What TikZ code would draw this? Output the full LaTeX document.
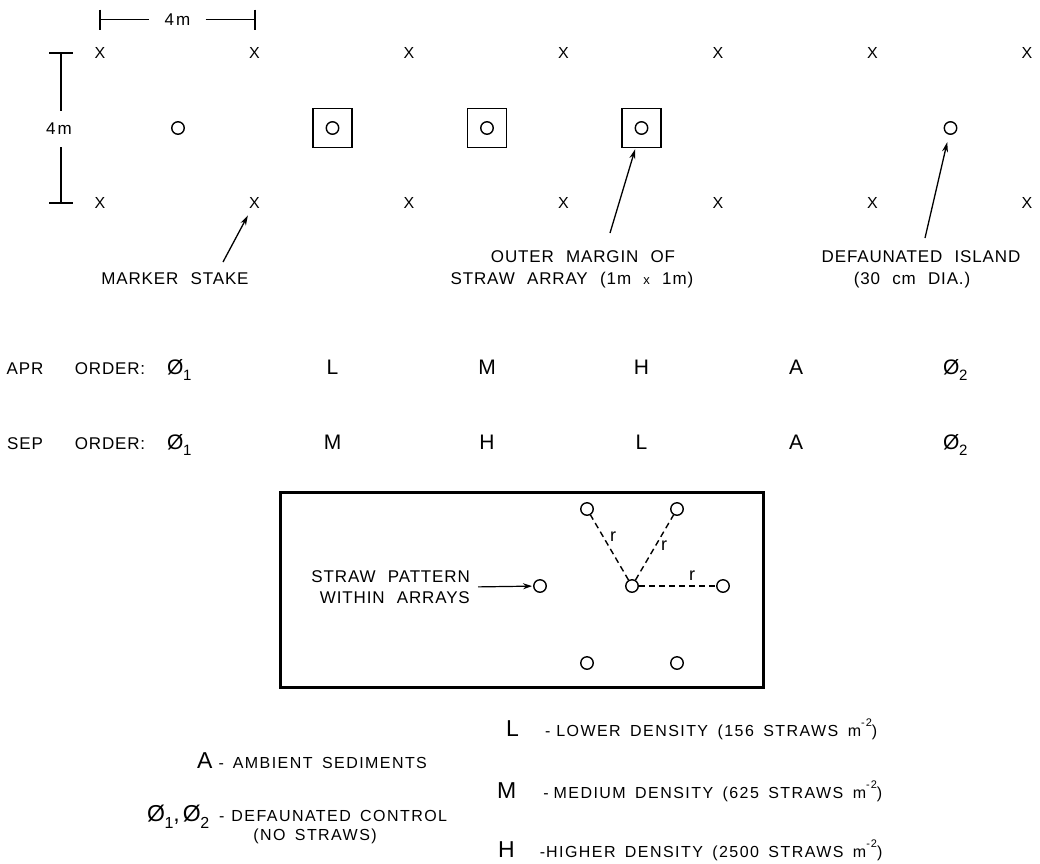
\documentclass[tikz,border=0pt]{standalone}
\usepackage{fontspec}
\setmainfont{Liberation Sans}
\newfontfamily\labfont[LetterSpace=5,WordSpace=2.2]{Liberation Sans}
\newfontfamily\legfont[LetterSpace=9,WordSpace=1.6]{Liberation Sans}
\usetikzlibrary{arrows.meta}
\newcommand\zsub[2]{Ø\kern-0.5pt\raisebox{-0.32em}{\fontsize{#2}{#2}\selectfont #1}}
\newcommand\msq{m\raisebox{0.62em}{\fontsize{11}{11}\selectfont -2}}
\begin{document}
\begin{tikzpicture}[x=1pt,y=-1pt,
  stake/.style={font=\fontsize{16}{16}\selectfont, inner sep=0pt},
  hole/.style={circle, draw, line width=1.4pt, minimum size=12.5pt, inner sep=0pt},
  arraybox/.style={draw, line width=1.5pt, minimum size=39pt, inner sep=0pt},
  lab/.style={font=\labfont\fontsize{17}{17}\selectfont, inner sep=0pt},
  big/.style={font=\fontsize{21}{21}\selectfont, inner sep=0pt},
  leg/.style={font=\legfont\fontsize{16}{16}\selectfont, inner sep=0pt},
  ptr/.style={-{Stealth[length=10pt,width=6pt]}, line width=1.3pt},
  dim/.style={line width=1.3pt},
  rdash/.style={line width=1.4pt, dash pattern=on 6pt off 4pt},
  rlab/.style={font=\fontsize{18}{18}\selectfont, inner sep=0pt},
]
\useasboundingbox (0,0) rectangle (1040,863);

% marker stakes
\foreach \i in {0,...,6} {
  \node[stake] (t\i) at ({100+154.5*\i},53) {X};
  \node[stake] (b\i) at ({100+154.5*\i},203) {X};
}

% islands and straw arrays
\node[hole] (c0) at (178,128) {};
\node[arraybox] (a1) at (332.5,128) {};
\node[hole] (c1) at (a1) {};
\node[arraybox] (a2) at (487,128) {};
\node[hole] (c2) at (a2) {};
\node[arraybox] (a3) at (641.5,128) {};
\node[hole] (c3) at (a3) {};
\node[hole] (c5) at (950.5,128) {};

% horizontal dimension
\coordinate (hl) at (100,19.5);
\coordinate (hr) at (255,19.5);
\node[lab, inner xsep=15pt] (hd) at (177.5,19.5) {4\hspace{2pt}m};
\draw[dim] (hl) -- (hd.west) (hd.east) -- (hr);
\draw[dim] ([yshift=10pt]hl) -- ([yshift=-10pt]hl);
\draw[dim] ([yshift=10pt]hr) -- ([yshift=-10pt]hr);

% vertical dimension
\coordinate (vt) at (61,53);
\coordinate (vb) at (61,203);
\node[lab, inner ysep=12pt] (vd) at (59,129) {4\hspace{2pt}m};
\draw[dim] (vt) -- (vd.north -| vt) (vd.south -| vb) -- (vb);
\draw[dim] ([xshift=-12pt]vt) -- ([xshift=12pt]vt);
\draw[dim] ([xshift=-12pt]vb) -- ([xshift=12pt]vb);

% pointer labels
\node[lab] (ms) at (175,279) {MARKER STAKE};
\coordinate (msA) at (223,262);
\draw[ptr, shorten >=14pt] (msA) -- (b1.center);

\node[lab] (om1) at (583,257) {OUTER MARGIN OF};
\node[lab] (om2) at (572,280) {STRAW ARRAY (1\hspace{1pt}m {\fontsize{13}{13}\selectfont x} 1\hspace{1pt}m)};
\coordinate (omA) at (610,233);
\draw[ptr, shorten >=22pt] (omA) -- (a3.center);

\node[lab] (di1) at (921,257) {DEFAUNATED ISLAND};
\node[lab] (di2) at (912,280) {(30 cm DIA.)};
\coordinate (diA) at (925,238);
\draw[ptr, shorten >=14.5pt] (diA) -- (c5.center);

% order rows
\node[lab, anchor=base] (apr) at (25,374) {APR};
\node[lab, anchor=base] (apro) at (110,374) {ORDER:};
\node[big, anchor=base west] (p0) at (167,374) {\zsub{1}{15}};
\node[big, anchor=base] (p1) at (332.5,374) {L};
\node[big, anchor=base] (p2) at (487,374) {M};
\node[big, anchor=base] (p3) at (641.5,374) {H};
\node[big, anchor=base] (p4) at (796,374) {A};
\node[big, anchor=base west] (p5) at (943,374) {\zsub{2}{15}};

\node[lab, anchor=base] (sep) at (25,449) {SEP};
\node[lab, anchor=base] (sepo) at (110,449) {ORDER:};
\node[big, anchor=base west] (s0) at (167,449) {\zsub{1}{15}};
\node[big, anchor=base] (s1) at (332.5,449) {M};
\node[big, anchor=base] (s2) at (487,449) {H};
\node[big, anchor=base] (s3) at (641.5,449) {L};
\node[big, anchor=base] (s4) at (796,449) {A};
\node[big, anchor=base west] (s5) at (943,449) {\zsub{2}{15}};

% straw pattern inset
\node[draw, line width=3pt, minimum width=483pt, minimum height=195pt, inner sep=0pt] (inset) at (521.5,589.5) {};
\node[lab, align=right, anchor=east, font=\labfont\fontsize{17}{21}\selectfont] (sp) at (470,587) {STRAW PATTERN\\WITHIN ARRAYS};
\node[hole] (q0) at (540,586) {};
\node[hole] (qc) at (632,586) {};
\node[hole] (qr) at (723,586) {};
\node[hole] (qtl) at (587,509) {};
\node[hole] (qtr) at (677,509) {};
\node[hole] (qbl) at (587,663) {};
\node[hole] (qbr) at (677,663) {};
\draw[-{Stealth[length=9pt,width=6pt]}, line width=1.2pt, shorten <=8pt, shorten >=1pt] (sp.east) -- (q0);
\draw[rdash] (qc) -- (qtl);
\draw[rdash] (qc) -- (qtr);
\draw[rdash] (qc) -- (qr);
\node[rlab] (r1) at (613,537) {r};
\node[rlab] (r2) at (664,546) {r};
\node[rlab] (r3) at (692,576) {r};

% legend
\node[leg, anchor=base west] (lA) at (197,768) {{\fontsize{23}{23}\selectfont A}\hspace{6pt}-\hspace{9pt}AMBIENT SEDIMENTS};
\node[leg, anchor=base west] (lZ) at (147,821) {{\fontsize{23}{23}\selectfont \zsub{1}{16},\hspace{3pt}\zsub{2}{16}}\hspace{10pt}-\hspace{7pt}DEFAUNATED CONTROL};
\node[leg, anchor=base] (lZb) at (315,840) {(NO STRAWS)};
\node[leg, anchor=base west] (lL) at (506,736) {{\fontsize{23}{23}\selectfont L}\hspace{26pt}-\hspace{6pt}LOWER DENSITY (156 STRAWS \msq)};
\node[leg, anchor=base west] (lM) at (497,798) {{\fontsize{23}{23}\selectfont M}\hspace{27pt}-\hspace{5pt}MEDIUM DENSITY (625 STRAWS \msq)};
\node[leg, anchor=base west] (lH) at (498,857) {{\fontsize{23}{23}\selectfont H}\hspace{25pt}-\hspace{1pt}HIGHER DENSITY (2500 STRAWS \msq)};
\end{tikzpicture}
\end{document}
